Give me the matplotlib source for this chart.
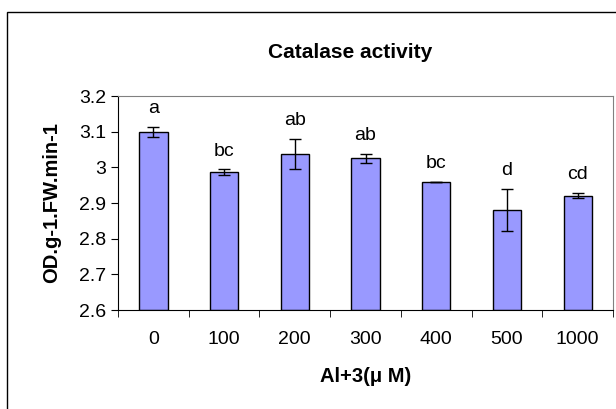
import numpy as np
import matplotlib
matplotlib.use("Agg")
import matplotlib.pyplot as plt
from matplotlib.patches import Rectangle

# data
doses = ["0", "100", "200", "300", "400", "500", "1000"]
activity = [3.099, 2.986, 3.038, 3.025, 2.959, 2.881, 2.920]
errors = [0.014, 0.008, 0.042, 0.012, 0.001, 0.059, 0.007]
letters = ["a", "bc", "ab", "ab", "bc", "d", "cd"]

plt.rcParams["font.family"] = ["Liberation Sans", "DejaVu Sans"]

W, H = 616, 409
fig = plt.figure(figsize=(W / 100, H / 100), dpi=100)

# outer chart frame (extends past right and bottom edges)
fig.patches.append(Rectangle((7 / W, -0.05), 1.1, 1 - 12 / H + 0.05,
                             transform=fig.transFigure, fill=False,
                             edgecolor="black", linewidth=1.0))

left, right, top, bottom = 118, 613, 96, 310
ax = fig.add_axes([left / W, 1 - bottom / H, (right - left) / W, (bottom - top) / H])

x = np.arange(len(doses))
ax.bar(x, [v - 2.6 for v in activity], bottom=2.6, width=0.4,
       color="#9999ff", edgecolor="black", linewidth=1.0, zorder=2)
ax.errorbar(x, activity, yerr=errors, fmt="none", ecolor="black",
            elinewidth=1.0, capsize=4, capthick=1.0, zorder=3)

for xi, v, e, lab in zip(x, activity, errors, letters):
    ax.annotate(lab, (xi, v + e), xytext=(0, 10), textcoords="offset points",
                ha="center", va="baseline", fontsize=14)

ax.set_xlim(-0.5, len(doses) - 0.5)
ax.set_ylim(2.6, 3.2)
ax.set_yticks([2.6, 2.7, 2.8, 2.9, 3.0, 3.1, 3.2])
ax.set_yticklabels(["2.6", "2.7", "2.8", "2.9", "3", "3.1", "3.2"], fontsize=14)
ax.set_xticks(x)
ax.set_xticklabels(doses, fontsize=14)
ax.tick_params(axis="x", length=0, pad=15)
ax.set_xticks(np.arange(-0.5, len(doses), 1.0), minor=True)
ax.tick_params(axis="x", which="minor", length=5, direction="out", color="black")
ax.tick_params(axis="y", length=5, direction="out", color="black", pad=3.5)

for s in ["top", "right"]:
    ax.spines[s].set_color("#808080")
for s in ["left", "bottom"]:
    ax.spines[s].set_color("black")

ax.set_xlabel("Al+3(\u03bc M)", fontsize=14.5, fontweight="bold", labelpad=14)
ax.set_ylabel("OD.g-1.FW.min-1", fontsize=14.5, fontweight="bold", labelpad=13)

fig.text(350 / W, 1 - 52 / H, "Catalase activity", ha="center", va="center",
         fontsize=15, fontweight="bold")

fig.savefig("out.png", dpi=100)
